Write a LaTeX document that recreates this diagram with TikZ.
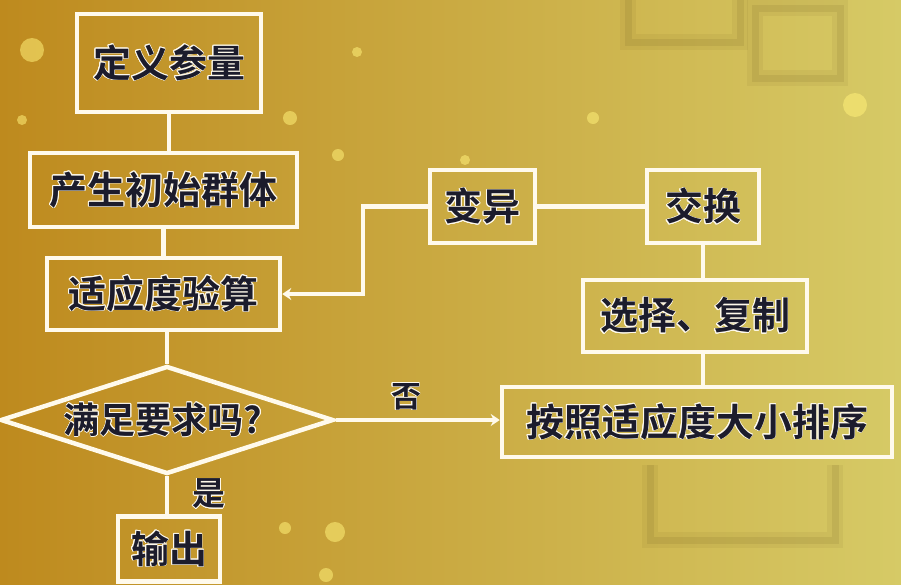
\documentclass[tikz,border=0pt]{standalone}
\usepackage{fontspec}
\usepackage{contour}
\usetikzlibrary{shapes.geometric,arrows.meta}
\newfontfamily\cjk{Noto Sans CJK SC}[BoldFont={Noto Sans CJK SC Bold}]
\definecolor{bgL}{RGB}{190,138,30}
\definecolor{bgM}{RGB}{202,170,66}
\definecolor{bgR}{RGB}{214,202,102}
\definecolor{ink}{RGB}{28,28,44}
\definecolor{edge}{RGB}{255,250,236}
\definecolor{glow}{RGB}{255,240,120}
\contourlength{0.6pt}
\tikzset{
  box/.style={draw=edge, line width=4.5pt, inner sep=0pt, text=ink,
              font=\cjk\bfseries\fontsize{38}{38}\selectfont},
  link/.style={draw=edge, line width=4.5pt},
  arr/.style={link, -{Stealth[length=9pt,width=12pt]}},
  lbl/.style={text=ink, inner sep=0pt},
  bokeh/.style={fill=glow, opacity=0.55},
  ghostA/.style={draw=black!60!bgL, line width=16pt, opacity=0.06},
  ghostB/.style={draw=black!60!bgL, line width=7pt, opacity=0.09}
}
\begin{document}
\begin{tikzpicture}[x=1pt,y=-1pt]
\shade[left color=bgL, right color=bgR, middle color=bgM] (0,0) rectangle (901,584);
\useasboundingbox (0,0) rectangle (901,584);
% faint background shapes
\foreach \g in {ghostA,ghostB}{
  \draw[\g] (628,-10) rectangle (740,42);
  \draw[\g] (755,8) rectangle (840,78);
  \draw[\g] (650,465) -- (650,540) -- (835,540) -- (835,465);
}
% bokeh
\fill[bokeh] (32,50) circle (12);
\fill[bokeh] (855,105) circle (12);
\fill[bokeh] (335,532) circle (10);
\fill[bokeh] (285,528) circle (6);
\fill[bokeh] (326,575) circle (7);
\fill[bokeh] (290,118) circle (7);
\fill[bokeh] (357,52) circle (5);
\fill[bokeh] (593,118) circle (6);
\fill[bokeh] (338,155) circle (6);
\fill[bokeh] (465,160) circle (5);
\fill[bokeh] (22,120) circle (5);
% nodes
\node[box, minimum width=184pt, minimum height=98pt] (a) at (169,63) {\contour{edge}{定义参量}};
\node[box, minimum width=267pt, minimum height=74pt] (b) at (163.5,190) {\contour{edge}{产生初始群体}};
\node[box, minimum width=233pt, minimum height=72pt] (c) at (163.5,294) {\contour{edge}{适应度验算}};
\node[diamond, draw=edge, line width=4.5pt, inner sep=0pt, minimum width=333pt, minimum height=108pt] (d) at (167,420) {};
\node[lbl, font=\cjk\bfseries\fontsize{36}{36}\selectfont] (dt) at (163,420) {\contour{edge}{满足要求吗?}};
\node[box, minimum width=102pt, minimum height=65pt] (e) at (169,549) {\contour{edge}{输出}};
\node[box, minimum width=105pt, minimum height=73pt] (f) at (482.5,206.5) {\contour{edge}{变异}};
\node[box, minimum width=112pt, minimum height=73pt] (g) at (703,206.5) {\contour{edge}{交换}};
\node[box, minimum width=224pt, minimum height=72pt] (h) at (695,316) {\contour{edge}{选择、复制}};
\node[box, minimum width=390pt, minimum height=70pt] (i) at (697,422) {\contour{edge}{按照适应度大小排序}};
\node[lbl, font=\cjk\bfseries\fontsize{30}{30}\selectfont] (no) at (406,397) {\contour{edge}{否}};
\node[lbl, font=\cjk\bfseries\fontsize{33}{33}\selectfont] (yes) at (209,494) {\contour{edge}{是}};
\coordinate (bend) at (363,210);
% connectors
\draw[link] (a.south) -- (a.south |- b.north);
\draw[link] (b.south) -- (b.south |- c.north);
\draw[link] (d.north |- c.south) -- (d.north);
\draw[link] (d.south) -- (d.south |- e.north);
\draw[arr] (d.east) -- (d.east -| i.west);
\draw[link] (g.west) -- (f.east);
\draw[link] (g.south) -- (g.south |- h.north);
\draw[link] (g.south |- h.south) -- (g.south |- i.north);
\draw[arr] (f.west) -- (bend |- f.west) |- (c.east);
\end{tikzpicture}
\end{document}
